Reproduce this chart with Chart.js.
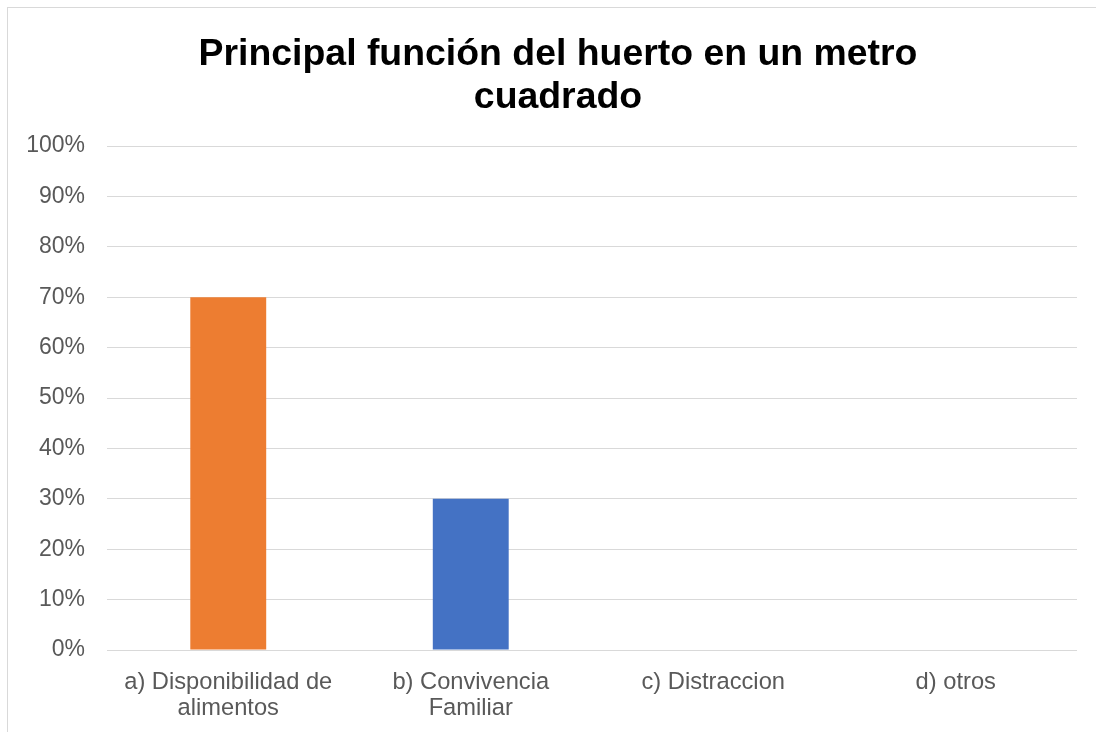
<!DOCTYPE html>
<html>
<head>
<meta charset="utf-8">
<script src="https://cdn.jsdelivr.net/npm/chart.js@4/dist/chart.umd.min.js"></script>
<style>
  html, body { margin: 0; padding: 0; background: #fff; overflow: hidden; width: 1096px; height: 732px; }
  #frame { position: absolute; left: 7px; top: 7px; width: 1300px; height: 900px; border: 1px solid #d9d9d9; box-sizing: border-box; }
  #wrap { position: absolute; left: 7px; top: 7px; width: 1108px; height: 725px; }
</style>
</head>
<body>
<div id="frame"></div>
<div id="wrap"><canvas id="c" width="1108" height="725"></canvas></div>
<script>
const titleLines = ["Principal función del huerto en un metro", "cuadrado"];
const categories = [["a) Disponibilidad de", "alimentos"], ["b) Convivencia", "Familiar"], "c) Distraccion", "d) otros"];
const values = [70, 30, 0, 0];
const barColors = ["#ED7D31", "#4472C4", "#A5A5A5", "#FFC000"];
const yTicksMin = 0, yTicksMax = 100, yStep = 10;

const FONT = "'Liberation Sans', Arial, sans-serif";

// widen the title box toward the original chart frame's right edge so it centres as in the source
const titleCenterPlugin = {
  id: 'titleCenter',
  afterLayout(chart) {
    const t = chart.titleBlock;
    if (t) { t.right = chart.width - 6; t.width = t.right - t.left; }
  }
};

new Chart(document.getElementById('c'), {
  type: 'bar',
  data: {
    labels: categories,
    datasets: [{
      data: values,
      backgroundColor: barColors,
      borderWidth: 0,
      categoryPercentage: 1,
      barPercentage: 0.313
    }]
  },
  plugins: [titleCenterPlugin],
  options: {
    responsive: false,
    animation: false,
    layout: { padding: { left: 0, right: 38, top: 0, bottom: 0 } },
    plugins: {
      legend: { display: false },
      tooltip: { enabled: false },
      title: {
        display: true,
        text: titleLines,
        color: '#000000',
        font: { family: FONT, size: 37.4, weight: 'bold', lineHeight: 1.15 },
        padding: { top: 26, bottom: 27 }
      }
    },
    scales: {
      x: {
        grid: { display: false, drawTicks: false },
        border: { display: false },
        ticks: {
          color: '#595959',
          font: { family: FONT, size: 23.7, lineHeight: 1.12 },
          padding: 19,
          maxRotation: 0,
          autoSkip: false
        },
        afterFit: (s) => { s.height = 82; }
      },
      y: {
        min: yTicksMin,
        max: yTicksMax,
        grid: { color: '#d9d9d9', lineWidth: 1, drawTicks: false },
        border: { display: false },
        ticks: {
          stepSize: yStep,
          color: '#595959',
          font: { family: FONT, size: 23 },
          padding: 22,
          callback: (v) => v + '%'
        },
        afterFit: (s) => { s.width = 100; }
      }
    }
  }
});
</script>
</body>
</html>
